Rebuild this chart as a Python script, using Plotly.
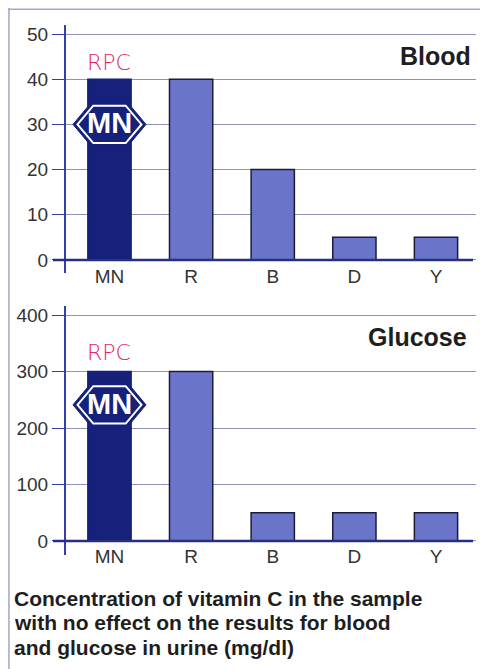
import plotly.graph_objects as go

# ---- data ----
categories = ["MN", "R", "B", "D", "Y"]
blood_values = [40, 40, 20, 5, 5]
glucose_values = [300, 300, 50, 50, 50]
blood_ticks = [0, 10, 20, 30, 40, 50]
glucose_ticks = [0, 100, 200, 300, 400]
panel_titles = ["Blood", "Glucose"]
caption_lines = [
    "Concentration of vitamin C in the sample",
    "with no effect on the results for blood",
    "and glucose in urine (mg/dl)",
]
logo_text = "MN"
note_text = "RPC"

# ---- style ----
OFF = 8                      # page body margin
W, H = 488 - OFF, 669 - OFF
NAVY = "#15217a"
BAR = "#6a75ca"
AXIS = "#3440aa"
BASE = "#26307f"
GRID = "#8e92bc"
TXT = "#333333"
FONT = "Liberation Sans, Arial, sans-serif"

bar_colors = [NAVY] + [BAR] * (len(categories) - 1)
line_colors = [NAVY] + ["#1c1c3a"] * (len(categories) - 1)


def px_x(p):
    return (p - OFF) / W


def px_y(p):
    return 1 - (p - OFF) / H


fig = go.Figure()
fig.add_trace(go.Bar(x=categories, y=blood_values, xaxis="x", yaxis="y",
                     marker=dict(color=bar_colors, line=dict(color=line_colors, width=1.5)),
                     showlegend=False, hoverinfo="skip"))
fig.add_trace(go.Bar(x=categories, y=glucose_values, xaxis="x2", yaxis="y2",
                     marker=dict(color=bar_colors, line=dict(color=line_colors, width=1.5)),
                     showlegend=False, hoverinfo="skip"))

xdom = [px_x(65), px_x(476)]
xrange_ = [-0.545, 4.49]
common_x = dict(type="category", range=xrange_, domain=xdom, showgrid=False,
                showline=False, ticks="", zeroline=False, anchor="free",
                tickfont=dict(family=FONT, size=19, color=TXT), fixedrange=True)
common_y = dict(showline=True, linecolor=AXIS, linewidth=2, ticks="outside",
                ticklen=12, tickcolor=AXIS, tickwidth=1.2, showgrid=True,
                gridcolor=GRID, gridwidth=1, zeroline=False, anchor="free",
                position=px_x(65),
                tickfont=dict(family=FONT, size=19, color=TXT), fixedrange=True)

fig.update_layout(
    width=W, height=H, margin=dict(l=0, r=0, t=0, b=0),
    paper_bgcolor="white", plot_bgcolor="rgba(0,0,0,0)",
    bargap=0.47,
    xaxis=dict(**common_x, position=px_y(263)),
    yaxis=dict(**common_y, range=[-2.9, 52], tickvals=blood_ticks,
               domain=[px_y(273), px_y(25)]),
    xaxis2=dict(**common_x, position=px_y(543)),
    yaxis2=dict(**common_y, range=[-24.8, 416], tickvals=glucose_ticks,
                domain=[px_y(555), px_y(306)]),
)

shapes = []
annotations = []

# baselines at zero
for yref in ["y", "y2"]:
    shapes.append(dict(type="line", xref="paper", yref=yref, x0=px_x(53), x1=px_x(473),
                       y0=0, y1=0, line=dict(color=BASE, width=2.5), layer="above"))

# logos and notes
hex_outer = "M -36.5 0 L -18.5 21.5 L 18.5 21.5 L 36.5 0 L 18.5 -21.5 L -18.5 -21.5 Z"
hex_inner = "M -32 0 L -16.2 18.7 L 16.2 18.7 L 32 0 L 16.2 -18.7 L -16.2 -18.7 Z"
for xr, yr, ymid, ynote in [("x", "y", 30, 43.6), ("x2", "y2", 241, 334)]:
    shapes.append(dict(type="path", xref=xr, yref=yr, xsizemode="pixel", ysizemode="pixel",
                       xanchor=0, yanchor=ymid, path=hex_outer,
                       fillcolor=NAVY, line=dict(color=NAVY, width=1), layer="above"))
    shapes.append(dict(type="path", xref=xr, yref=yr, xsizemode="pixel", ysizemode="pixel",
                       xanchor=0, yanchor=ymid, path=hex_inner,
                       fillcolor=NAVY, line=dict(color="white", width=2), layer="above"))
    annotations.append(dict(xref=xr, yref=yr, x=0, y=ymid, text=f"<b>{logo_text}</b>",
                            showarrow=False, font=dict(family=FONT, size=29, color="white"),
                            xanchor="center", yanchor="middle", yshift=1))
    annotations.append(dict(xref=xr, yref=yr, x=0, y=ynote, text=note_text,
                            showarrow=False,
                            font=dict(family="DejaVu Sans", size=22, color="#e8245f", weight=300),
                            xanchor="center", yanchor="middle"))

# panel titles
annotations.append(dict(xref="paper", yref="paper", x=px_x(473), y=px_y(56),
                        text=f"<b>{panel_titles[0]}</b>",
                        showarrow=False, xanchor="right", yanchor="middle",
                        font=dict(family=FONT, size=25, color="#1e1e1e")))
annotations.append(dict(xref="paper", yref="paper", x=px_x(469), y=px_y(337),
                        text=f"<b>{panel_titles[1]}</b>",
                        showarrow=False, xanchor="right", yanchor="middle",
                        font=dict(family=FONT, size=25, color="#1e1e1e")))

# caption
for i, line in enumerate(caption_lines):
    annotations.append(dict(xref="paper", yref="paper", x=px_x(12), y=px_y(598 + 24.5 * i),
                            text=f"<b>{line}</b>", showarrow=False, xanchor="left",
                            yanchor="middle",
                            font=dict(family=FONT, size=21, color="#1e1e1e")))

# outer frame (left and top edges)
shapes.append(dict(type="line", xref="paper", yref="paper", x0=0.002, x1=0.002,
                   y0=0, y1=1, line=dict(color="#a3a6c6", width=1.5), layer="below"))
shapes.append(dict(type="line", xref="paper", yref="paper", x0=0, x1=1,
                   y0=0.998, y1=0.998, line=dict(color="#a3a6c6", width=1.5), layer="below"))

fig.update_layout(shapes=shapes, annotations=annotations)
fig.write_html("out.html")
